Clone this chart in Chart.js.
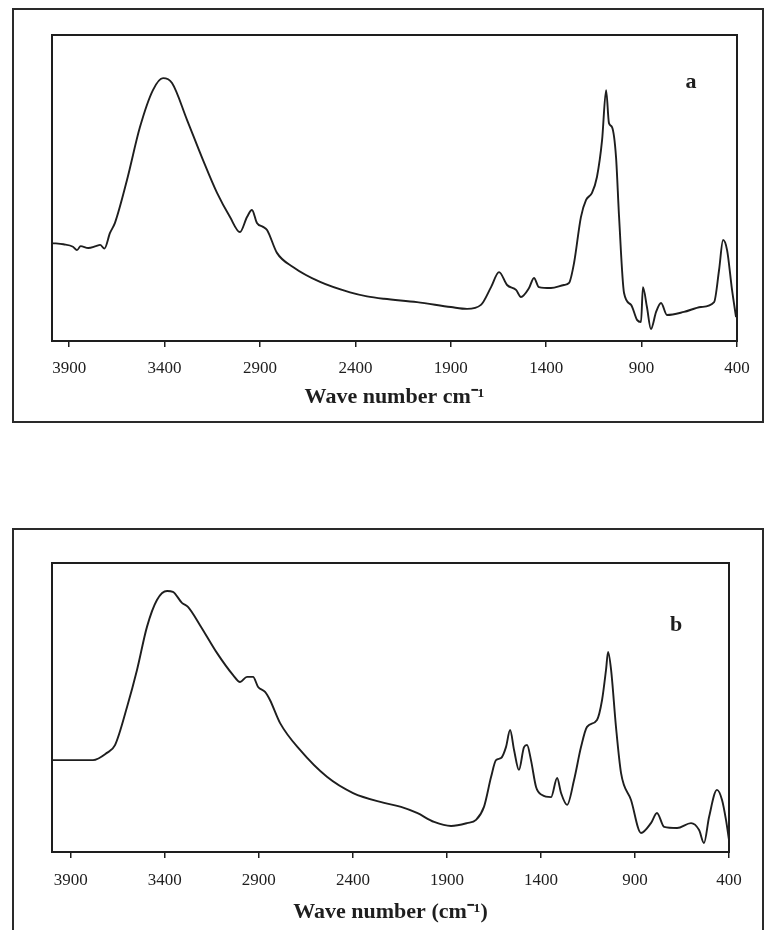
<!DOCTYPE html>
<html>
<head>
<meta charset="utf-8">
<script src="https://cdn.jsdelivr.net/npm/chart.js@4/dist/chart.umd.min.js"></script>
<style>
  html, body { margin: 0; padding: 0; background: #fff; overflow: hidden; }
  body { width: 768px; height: 930px; position: relative; }
  .frame { position: absolute; box-sizing: border-box; border: 2px solid #2a2a2a; }
  #frame-a { left: 12px; top: 8px; width: 752px; height: 415px; }
  #frame-b { left: 12px; top: 528px; width: 752px; height: 420px; }
  canvas { position: absolute; left: 0; }
  #chart-a { top: 0; }
  #chart-b { top: 500px; }
</style>
</head>
<body>
<div class="frame" id="frame-a"></div>
<div class="frame" id="frame-b"></div>
<canvas id="chart-a" width="768" height="430"></canvas>
<canvas id="chart-b" width="768" height="430"></canvas>
<script>
// tick labels shared by both spectra
const tickValues = [3900, 3400, 2900, 2400, 1900, 1400, 900, 400];

// spectrum a (wavenumber, relative absorbance)
const waveA = [3990, 3930, 3880, 3859, 3840, 3800, 3760, 3738, 3715, 3686, 3660, 3597, 3529, 3461, 3408, 3361, 3282, 3199, 3125, 3057,
  3005, 2968, 2942, 2916, 2884, 2863, 2811, 2727, 2585, 2428, 2339, 2250, 2077, 1899, 1815, 1742, 1689, 1647, 1605, 1558,
  1532, 1490, 1464, 1438, 1375, 1307, 1280, 1254, 1218, 1191, 1160, 1134, 1107, 1086, 1071, 1055, 1034, 1018, 992, 955,
  924, 903, 893, 872, 851, 824, 798, 767, 678, 589, 520, 494, 473, 452, 426, 405];
const absA = [32.0, 31.6, 30.8, 29.7, 31.0, 30.4, 31.0, 31.4, 30.2, 35.3, 38.6, 52.6, 69.9, 82.0, 85.9, 84.3, 72.2, 59.2, 48.4, 40.5,
  35.6, 40.5, 42.8, 38.6, 37.3, 36.3, 28.8, 24.2, 19.3, 15.9, 14.6, 13.8, 12.7, 11.1, 10.5, 11.8, 17.6, 22.5, 18.3, 16.7,
  14.4, 17.3, 20.6, 17.6, 17.3, 18.3, 19.0, 25.5, 40.5, 46.1, 48.4, 53.6, 65.7, 82.0, 71.2, 69.9, 60.1, 40.5, 15.7, 11.8,
  6.9, 6.2, 17.6, 11.1, 3.9, 9.5, 12.4, 8.5, 9.5, 11.1, 12.7, 23.2, 33.0, 29.7, 16.7, 7.8];

// spectrum b
const waveB = [3995, 3900, 3782, 3708, 3665, 3601, 3548, 3495, 3442, 3388, 3357, 3309, 3277, 3213, 3123, 3037, 3000, 2963, 2931, 2904,
  2867, 2841, 2787, 2681, 2538, 2399, 2234, 2144, 2059, 1968, 1878, 1793, 1745, 1703, 1665, 1639, 1612, 1586, 1564, 1543,
  1517, 1490, 1474, 1453, 1426, 1394, 1346, 1314, 1293, 1261, 1224, 1187, 1155, 1102, 1075, 1054, 1043, 1027, 1001, 974,
  921, 868, 815, 783, 745, 676, 602, 559, 533, 506, 464, 437, 416, 400];
const absB = [31.8, 31.8, 31.8, 34.3, 37.0, 50.2, 63.0, 77.9, 87.2, 90.3, 90.0, 86.2, 84.8, 78.5, 68.9, 61.2, 58.8, 60.6, 60.6, 57.1,
  55.4, 52.6, 44.6, 35.3, 26.0, 20.4, 17.0, 15.6, 13.5, 10.4, 9.0, 10.0, 11.1, 15.6, 26.0, 31.8, 32.5, 36.3, 42.2, 35.3,
  28.4, 36.3, 37.0, 31.8, 22.5, 19.7, 19.0, 25.6, 20.4, 16.3, 24.9, 36.3, 43.3, 45.7, 52.6, 63.0, 69.2, 63.0, 43.3, 27.3,
  18.0, 6.6, 10.0, 13.5, 8.7, 8.3, 10.0, 7.6, 3.1, 12.1, 21.5, 18.0, 11.1, 4.2];

const ink = '#1e1e1e';

// box around the plot area plus the panel letter
const panelPlugin = {
  id: 'panel',
  afterDraw(chart, args, opts) {
    const { ctx, chartArea: a } = chart;
    ctx.save();
    ctx.strokeStyle = ink;
    ctx.lineWidth = 2;
    ctx.strokeRect(a.left, a.top, a.right - a.left, a.bottom - a.top);
    ctx.fillStyle = ink;
    ctx.font = 'bold 22px "Liberation Serif"';
    ctx.textAlign = 'center';
    ctx.textBaseline = 'middle';
    ctx.fillText(opts.letter, a.left + opts.letterX, a.top + opts.letterY);
    ctx.restore();
  }
};

function makeSpectrum(id, waves, values, cfg) {
  const ctx = document.getElementById(id).getContext('2d');
  return new Chart(ctx, {
    type: 'line',
    data: {
      datasets: [{
        data: waves.map((w, i) => ({ x: w, y: values[i] })),
        borderColor: ink,
        borderWidth: 1.9,
        pointRadius: 0,
        cubicInterpolationMode: 'monotone',
        fill: false
      }]
    },
    options: {
      responsive: false,
      animation: false,
      layout: { padding: cfg.padding },
      plugins: {
        legend: { display: false },
        tooltip: { enabled: false },
        panel: { letter: cfg.letter, letterX: cfg.letterX, letterY: cfg.letterY }
      },
      scales: {
        x: {
          type: 'linear',
          reverse: true,
          min: 400,
          max: cfg.maxWave,
          afterBuildTicks: (scale) => { scale.ticks = tickValues.map(v => ({ value: v })); },
          afterFit: (scale) => { scale.height = cfg.axisHeight; },
          border: { display: true, color: ink, width: 2 },
          grid: { display: true, drawOnChartArea: false, drawTicks: true, tickLength: 6, color: ink, lineWidth: 1.5 },
          ticks: {
            color: ink,
            padding: cfg.tickPad,
            maxRotation: 0,
            autoSkip: false,
            font: { family: '"Liberation Serif"', size: 17 },
            callback: (v) => String(v)
          },
          title: {
            display: true,
            text: cfg.title,
            color: ink,
            padding: { top: 0, bottom: cfg.titlePad },
            font: { family: '"Liberation Serif"', size: 22, weight: 'bold' }
          }
        },
        y: {
          display: false,
          min: 0,
          max: 100
        }
      }
    },
    plugins: [panelPlugin]
  });
}

makeSpectrum('chart-a', waveA, absA, {
  padding: { left: 52, top: 35, right: 31, bottom: 0 },
  maxWave: 3990,
  axisHeight: 89,
  tickPad: 11,
  titlePad: 19,
  title: 'Wave number cm⁻¹',
  letter: 'a', letterX: 639, letterY: 47
});

makeSpectrum('chart-b', waveB, absB, {
  padding: { left: 52, top: 63, right: 39, bottom: 0 },
  maxWave: 4000,
  axisHeight: 78,
  tickPad: 12,
  titlePad: 4,
  title: 'Wave number (cm⁻¹)',
  letter: 'b', letterX: 624, letterY: 62
});
</script>
</body>
</html>
